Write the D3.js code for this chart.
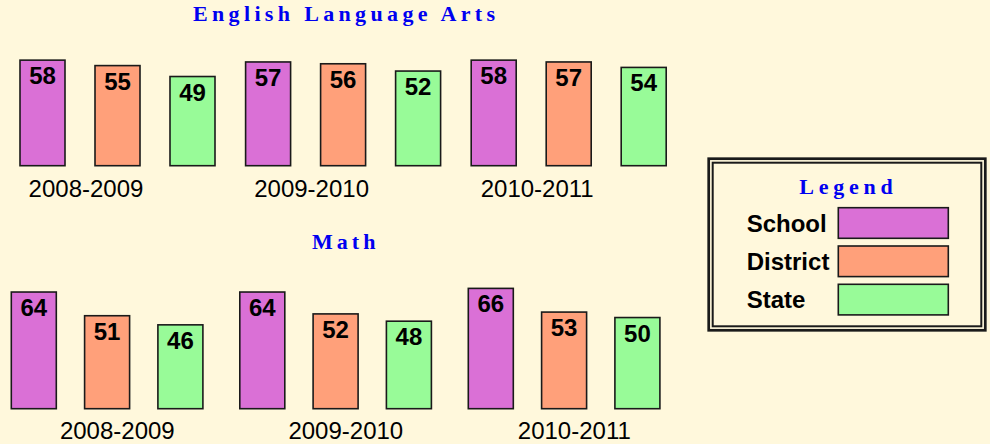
<!DOCTYPE html>
<html>
<head>
<meta charset="utf-8">
<script src="https://cdn.jsdelivr.net/npm/d3@7"></script>
<style>
  html, body { margin: 0; padding: 0; background: #FFF8DC; }
  svg { display: block; }
</style>
</head>
<body>
<div id="chart"></div>
<script>
// ---- data ----
const years = ["2008-2009", "2009-2010", "2010-2011"];
const series = ["School", "District", "State"];
const colors = ["#DA70D6", "#FFA07A", "#98FB98"];
const elaSchool   = [58, 57, 58];
const elaDistrict = [55, 56, 57];
const elaState    = [49, 52, 54];
const mathSchool   = [64, 64, 66];
const mathDistrict = [51, 52, 53];
const mathState    = [46, 48, 50];

const W = 990, H = 444;
const svg = d3.select("#chart").append("svg").attr("width", W).attr("height", H);
svg.append("rect").attr("width", W).attr("height", H).attr("fill", "#FFF8DC");

const color = d3.scaleOrdinal().domain(series).range(colors);
const titleFont = "'Palatino Linotype', 'Book Antiqua', Palatino, 'Liberation Serif', serif";

function panel(cfg) {
  const rows = years.map((yr, i) => ({
    year: yr,
    values: [cfg.school[i], cfg.district[i], cfg.state[i]]
  }));
  const x0 = d3.scaleBand().domain(years)
    .range([cfg.left, cfg.left + 3 * cfg.groupStep]).padding(0);
  const x1 = d3.scaleBand().domain(series)
    .range([0, cfg.barStep * 2 + cfg.barW]).paddingInner(1 - cfg.barW / cfg.barStep).paddingOuter(0);
  const y = d3.scaleLinear().domain([0, 100]).range([cfg.base, cfg.base - 100 * cfg.pxPerUnit]);

  const g = svg.append("g");
  const grp = g.selectAll("g.grp").data(rows).join("g")
    .attr("transform", d => `translate(${x0(d.year)},0)`);
  const bars = grp.selectAll("g.bar").data(d => d.values.map((v, j) => ({ s: series[j], v })))
    .join("g");
  bars.append("rect")
    .attr("x", d => x1(d.s))
    .attr("y", d => y(d.v))
    .attr("width", x1.bandwidth())
    .attr("height", d => y(0) - y(d.v))
    .attr("fill", d => color(d.s))
    .attr("stroke", "#1a1a1a")
    .attr("stroke-width", 1.6);
  bars.append("text")
    .attr("x", d => x1(d.s) + x1.bandwidth() / 2)
    .attr("y", d => y(d.v) + 24)
    .attr("text-anchor", "middle")
    .attr("font-family", "Arial, 'Liberation Sans', sans-serif")
    .attr("font-weight", "bold")
    .attr("font-size", 24)
    .attr("fill", "#000")
    .text(d => d.v);

  // category labels
  g.selectAll("text.cat").data(years).join("text")
    .attr("class", "cat")
    .attr("x", d => x0(d) + cfg.labelOffset)
    .attr("y", cfg.labelY)
    .attr("text-anchor", "middle")
    .attr("font-family", "Arial, 'Liberation Sans', sans-serif")
    .attr("font-size", 24)
    .attr("fill", "#000")
    .text(d => d);

  // title
  g.append("text")
    .attr("x", cfg.titleX)
    .attr("y", cfg.titleY)
    .attr("textLength", cfg.titleW)
    .attr("lengthAdjust", "spacing")
    .attr("font-family", titleFont)
    .attr("font-weight", "bold")
    .attr("font-size", 22)
    .attr("fill", "#0000F0")
    .text(cfg.title);
}

panel({
  title: "English Language Arts", titleX: 193, titleY: 20.5, titleW: 302,
  school: elaSchool, district: elaDistrict, state: elaState,
  left: 20, groupStep: 225.6, barStep: 75, barW: 45,
  base: 165.7, pxPerUnit: 1.82, labelOffset: 66, labelY: 196.5
});
panel({
  title: "Math", titleX: 312, titleY: 248.5, titleW: 63.5,
  school: mathSchool, district: mathDistrict, state: mathState,
  left: 11.3, groupStep: 228.5, barStep: 73.3, barW: 45,
  base: 408.7, pxPerUnit: 1.823, labelOffset: 106, labelY: 439
});

// ---- legend ----
const lg = svg.append("g");
lg.append("rect").attr("x", 708.7).attr("y", 158.7).attr("width", 276.6).attr("height", 171.6)
  .attr("fill", "none").attr("stroke", "#1a1a1a").attr("stroke-width", 2.7);
lg.append("rect").attr("x", 712.7).attr("y", 162.7).attr("width", 268.6).attr("height", 163.6)
  .attr("fill", "none").attr("stroke", "#1a1a1a").attr("stroke-width", 2);
lg.append("text")
  .attr("x", 799.3).attr("y", 194.3)
  .attr("textLength", 93.4).attr("lengthAdjust", "spacing")
  .attr("font-family", titleFont)
  .attr("font-weight", "bold").attr("font-size", 22).attr("fill", "#0000F0")
  .text("Legend");
const swH = 30.6, swStep = 38.3, swTop = 207.7;
const ly = d3.scaleBand().domain(series)
  .range([swTop, swTop + 2 * swStep + swH])
  .paddingInner(1 - swH / swStep).paddingOuter(0);
const items = lg.selectAll("g.item").data(series).join("g");
items.append("text")
  .attr("x", 746.7)
  .attr("y", d => ly(d) + 24)
  .attr("font-family", "Arial, 'Liberation Sans', sans-serif")
  .attr("font-weight", "bold").attr("font-size", 24).attr("fill", "#000")
  .text(d => d);
items.append("rect")
  .attr("x", 838.3).attr("y", d => ly(d))
  .attr("width", 110).attr("height", ly.bandwidth())
  .attr("fill", d => color(d))
  .attr("stroke", "#1a1a1a").attr("stroke-width", 1.6);
</script>
</body>
</html>
